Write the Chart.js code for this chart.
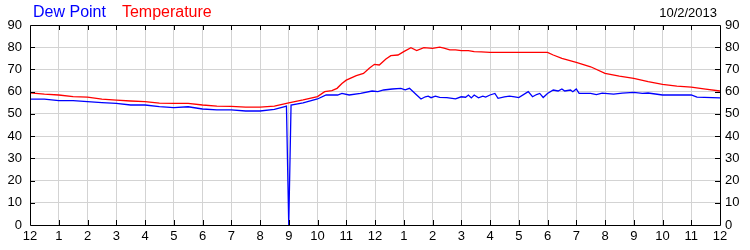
<!DOCTYPE html>
<html>
<head>
<meta charset="utf-8">
<script src="https://cdn.jsdelivr.net/npm/chart.js@4"></script>
<style>
  html, body { margin: 0; padding: 0; background: #fff; }
  #wrap { width: 750px; height: 250px; }
</style>
</head>
<body>
<div id="wrap"><canvas id="chart"></canvas></div>
<script>
const dateLabel = "10/2/2013";
const hourLabels = ["12", "1", "2", "3", "4", "5", "6", "7", "8", "9", "10", "11",
                    "12", "1", "2", "3", "4", "5", "6", "7", "8", "9", "10", "11", "12"];

const tempHours = [0, 0.5, 1, 1.5, 2, 2.5, 3, 3.5, 4, 4.5, 5, 5.5, 6, 6.5, 7, 7.5, 8, 8.5, 9, 9.5,
                   10, 10.25, 10.5, 10.68, 10.85, 11, 11.35, 11.6, 11.8, 11.98, 12.15, 12.38, 12.55,
                   12.8, 13, 13.25, 13.45, 13.7, 14, 14.25, 14.4, 14.6, 14.8, 15, 15.25, 15.45, 15.7,
                   16, 17, 18, 18.2, 18.5, 19, 19.5, 20, 20.5, 21, 21.5, 22, 22.5, 23, 23.5, 24];
const tempValues = [59.5, 58.9, 58.5, 57.8, 57.5, 56.6, 56.2, 55.8, 55.5, 54.8, 54.7, 54.7, 54.0, 53.5, 53.4, 53.0, 53.0, 53.5, 55.0, 56.3,
                    57.8, 60.0, 60.5, 61.5, 63.7, 65.2, 67.2, 68.2, 70.5, 72.3, 72.0, 74.7, 76.2,
                    76.5, 78.0, 79.8, 78.5, 79.8, 79.5, 80.0, 79.6, 78.8, 78.8, 78.5, 78.5, 78.0, 77.9,
                    77.7, 77.7, 77.7, 76.5, 75.0, 73.2, 71.2, 68.2, 67.0, 66.0, 64.5, 63.3, 62.5, 62.0, 61.1, 60.3];

const dewHours = [0, 0.5, 1, 1.5, 2, 2.5, 3, 3.5, 4, 4.5, 5, 5.5, 6, 6.5, 7, 7.5, 8, 8.5, 8.83, 8.92,
                  9.0, 9.08, 9.5, 10, 10.3, 10.5, 10.7, 10.85, 11.1, 11.5, 11.9, 12.1, 12.3, 12.6, 12.9,
                  13.05, 13.2, 13.45, 13.6, 13.75, 13.85, 13.95, 14.1, 14.25, 14.5, 14.8, 15.0, 15.15,
                  15.25, 15.35, 15.45, 15.6, 15.75, 15.85, 16.0, 16.17, 16.28, 16.5, 16.68, 16.86, 17.0,
                  17.33, 17.48, 17.62, 17.73, 17.85, 18.0, 18.2, 18.37, 18.5, 18.6, 18.8, 18.88, 19.0,
                  19.1, 19.5, 19.7, 19.9, 20.3, 20.6, 21.0, 21.3, 21.5, 22.0, 22.5, 23.0, 23.2, 24];
const dewValues = [56.6, 56.6, 56.0, 56.0, 55.5, 55.1, 54.7, 54.0, 54.0, 53.3, 52.8, 53.2, 52.2, 51.8, 51.8, 51.3, 51.3, 52.0, 53.2, 53.5,
                   0, 54.0, 55.0, 56.7, 58.5, 58.5, 58.5, 59.2, 58.5, 59.2, 60.3, 60.0, 60.75, 61.2, 61.5,
                   60.8, 61.5, 58.5, 56.7, 57.7, 58.0, 57.3, 58.0, 57.4, 57.3, 56.8, 57.7, 57.5,
                   58.5, 57.2, 58.5, 57.2, 58.0, 57.6, 58.5, 59.2, 57.0, 57.7, 58.0, 57.7, 57.3,
                   60.0, 57.7, 58.7, 59.2, 57.4, 59.2, 60.75, 60.3, 61.2, 60.3, 60.75, 60.0, 61.2,
                   59.2, 59.2, 58.7, 59.3, 58.9, 59.3, 59.7, 59.2, 59.4, 58.5, 58.6, 58.5, 57.5, 57.2];

function toPoints(xs, ys) {
    return xs.map((x, i) => ({ x: x, y: ys[i] }));
}

// frame round the plot with short inward tick marks, plus the header texts
const framePlugin = {
    id: "frame",
    afterDraw(chart) {
        const ctx = chart.ctx;
        const a = chart.chartArea;
        const xs = chart.scales.x;
        const ys = chart.scales.y;
        ctx.save();
        ctx.strokeStyle = "#000";
        ctx.lineWidth = 1;
        ctx.beginPath();
        ctx.rect(Math.round(a.left) + 0.5, Math.round(a.top) + 0.5,
                 Math.round(a.right - a.left), Math.round(a.bottom - a.top));
        for (let h = 1; h < hourLabels.length - 1; h++) {
            const px = Math.round(xs.getPixelForValue(h)) + 0.5;
            ctx.moveTo(px, a.bottom);
            ctx.lineTo(px, a.bottom - 5);
            ctx.moveTo(px, a.top);
            ctx.lineTo(px, a.top + 5);
        }
        for (let v = 10; v < 90; v += 10) {
            const py = Math.round(ys.getPixelForValue(v)) + 0.5;
            ctx.moveTo(a.left, py);
            ctx.lineTo(a.left + 5, py);
            ctx.moveTo(a.right, py);
            ctx.lineTo(a.right - 5, py);
        }
        ctx.stroke();

        ctx.textBaseline = "alphabetic";
        ctx.font = "16px 'Liberation Sans', Arial, sans-serif";
        ctx.textAlign = "left";
        let tx = 33;
        chart.data.datasets.forEach(ds => {
            ctx.fillStyle = ds.borderColor;
            ctx.fillText(ds.label, tx, 17);
            tx += ctx.measureText(ds.label).width + 16;
        });
        ctx.font = "13px 'Liberation Sans', Arial, sans-serif";
        ctx.fillStyle = "#000";
        ctx.textAlign = "right";
        ctx.fillText(dateLabel, 717, 17);
        ctx.restore();
    }
};

const tickFont = { family: "'Liberation Sans', Arial, sans-serif", size: 13 };

new Chart(document.getElementById("chart"), {
    type: "line",
    data: {
        datasets: [
            {
                label: "Dew Point",
                data: toPoints(dewHours, dewValues),
                borderColor: "#0000ff",
                borderWidth: 1.3,
                pointRadius: 0,
                tension: 0,
            },
            {
                label: "Temperature",
                data: toPoints(tempHours, tempValues),
                borderColor: "#ff0000",
                borderWidth: 1.3,
                pointRadius: 0,
                tension: 0,
            },
        ],
    },
    options: {
        responsive: true,
        maintainAspectRatio: false,
        animation: false,
        layout: { padding: { top: 25, left: 0, right: 0, bottom: 0 } },
        plugins: {
            legend: { display: false },
            tooltip: { enabled: false },
        },
        scales: {
            x: {
                type: "linear",
                min: 0,
                max: 24,
                grid: { color: "#d3d3d3", drawTicks: false },
                border: { display: false },
                ticks: {
                    stepSize: 1,
                    color: "#000",
                    font: tickFont,
                    padding: 4,
                    maxRotation: 0,
                    autoSkip: false,
                    callback: function (value) {
                        return hourLabels[value];
                    },
                },
                afterFit: function (scale) { scale.height = 25; },
            },
            y: {
                position: "left",
                min: 0,
                max: 90,
                grid: { color: "#d3d3d3", drawTicks: false },
                border: { display: false },
                ticks: { stepSize: 10, color: "#000", font: tickFont, padding: 8 },
                afterFit: function (scale) { scale.width = 30; },
            },
            y2: {
                position: "right",
                min: 0,
                max: 90,
                grid: { display: false, drawTicks: false },
                border: { display: false },
                ticks: { stepSize: 10, color: "#000", font: tickFont, padding: 5 },
                afterFit: function (scale) { scale.width = 30; },
            },
        },
    },
    plugins: [framePlugin],
});
</script>
</body>
</html>
